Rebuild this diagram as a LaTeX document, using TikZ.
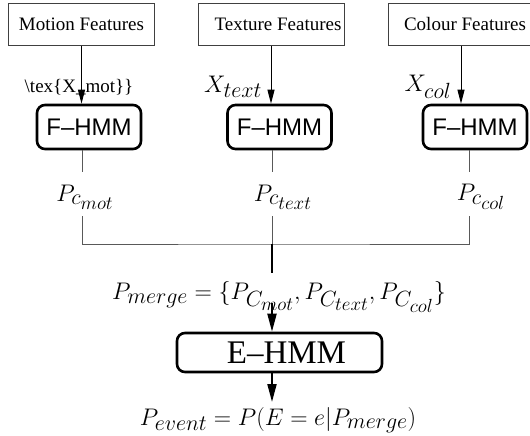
\RequirePackage{fix-cm}
\documentclass[tikz,border=0pt]{standalone}
\usepackage{fontspec}
\setmainfont{Liberation Serif}
\newfontfamily\hmmsans{Liberation Sans}
\usetikzlibrary{arrows.meta}
\DeclareMathSizes{24}{24}{22}{19}
\begin{document}
\begin{tikzpicture}[x=1pt,y=-1pt,
  feat/.style={draw=black!75, line width=0.8pt, minimum width=146pt,
    minimum height=42pt, inner sep=0pt, font=\fontsize{19}{22}\selectfont},
  fhmm/.style={draw, line width=2.6pt, rounded corners=8pt, minimum width=104pt,
    minimum height=44pt, inner sep=0pt, font=\hmmsans\fontsize{24}{28}\selectfont},
  ehmm/.style={draw, line width=2.6pt, rounded corners=8pt, minimum width=205pt,
    minimum height=39pt, inner sep=0pt, font=\fontsize{33}{36}\selectfont},
  conn/.style={draw=black!65, line width=0.8pt},
  thick conn/.style={draw=black, line width=2.5pt},
  arr/.style={draw=black, line width=1pt, -{Triangle[length=14pt,width=7pt]}},
  bigarr/.style={draw=black, line width=2pt, -{Triangle[length=18pt,width=9pt]}},
  lbl/.style={inner sep=0pt, font=\fontsize{24}{27}\selectfont},
  txtlbl/.style={inner sep=0pt, font=\fontsize{19}{22}\selectfont}]

\useasboundingbox (0,0) rectangle (530,436);

% feature sources
\node[feat] (mf) at (81.5,24.5) {Motion Features};
\node[feat] (tf) at (271,24.5) {\hspace*{14pt}Texture Features};
\node[feat] (cf) at (461,24.5) {\hspace*{8pt}Colour Features};

% per-feature HMMs
\node[fhmm] (fm) at (89,127) {F\textendash HMM};
\node[fhmm] (ft) at (279.5,127) {F\textendash HMM};
\node[fhmm] (fc) at (475,127) {F\textendash HMM};

% observation sequences
\draw[arr] (mf.south) -- (mf.south |- fm.north);
\draw[arr] (tf.south) -- (tf.south |- ft.north);
\draw[arr] (cf.south) -- (cf.south |- fc.north);
\node[txtlbl] (xm) at (79,87) {\textbackslash tex\{X\_mot\}\}};
\node[lbl] (xt) at (233,87) {$X_{text}$};
\node[lbl] (xc) at (428,87) {$X_{col}$};

% per-feature likelihoods
\coordinate (lm1) at (82,172);
\coordinate (lm2) at (82,216);
\coordinate (lt1) at (272,172);
\coordinate (lt2) at (272,216);
\coordinate (lc1) at (469,172);
\coordinate (lc2) at (469,216);
\coordinate (junc) at (272,244);
\coordinate (jm) at (272,273);
\coordinate (am) at (272,303);
\coordinate (tip) at (272,402);

\node[lbl] (pcm) at (85,197) {$P_{c_{mot}}$};
\node[lbl] (pct) at (283,197) {$P_{c_{text}}$};
\node[lbl] (pcc) at (481,197) {$P_{c_{col}}$};

\draw[conn] (fm.south -| lm1) -- (lm1);
\draw[conn] (ft.south -| lt1) -- (lt1);
\draw[conn] (fc.south -| lc1) -- (lc1);
\draw[conn] (lm2) |- (junc) -| (lc2);
\draw[conn] (lt2) -- (junc);
\draw[thick conn] (junc) -- (jm);

% merged vector and event HMM
\node[lbl] (pmerge) at (279,297) {$P_{merge}=\{P_{C_{mot}},P_{C_{text}},P_{C_{col}}\}$};
\node[ehmm] (eh) at (279.5,352.5) {\hspace*{14pt}E\textendash HMM};
\draw[bigarr] (am) -- (am |- eh.north);
\draw[bigarr] (eh.south -| am) -- (tip);
\node[lbl] (pevent) at (278,420) {$P_{event}=P(E=e|P_{merge})$};
\end{tikzpicture}
\end{document}
